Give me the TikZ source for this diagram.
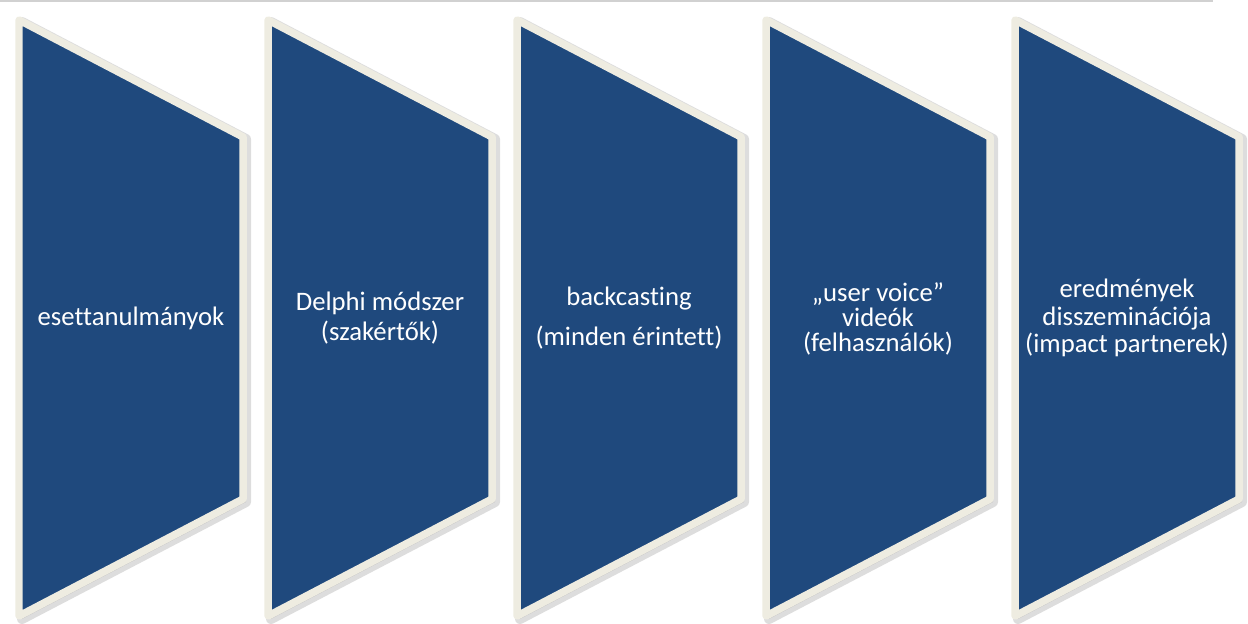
\documentclass[tikz,border=0pt]{standalone}
\usepackage{fontspec}
\setmainfont{Carlito}[Ligatures=NoCommon]
\usepackage{tikz}
\usetikzlibrary{positioning}
\definecolor{panelblue}{RGB}{31,73,125}
\definecolor{panelrim}{RGB}{238,236,225}
\definecolor{panelshade}{RGB}{120,120,120}

\tikzset{
  panel/.style={fill=panelblue, draw=panelrim, line width=0.15cm, line join=round},
  panelshadow/.style={draw=panelshade, fill=panelshade, line width=0.2cm, line join=round, opacity=0.25},
  paneltext/.style={text=white, align=center, font=\fontsize{15.2}{14}\selectfont},
}

\begin{document}
\begin{tikzpicture}[x=0.02cm, y=-0.02cm]
	\useasboundingbox (0,0) rectangle (1248,623);
	\draw[black!18, line width=0.03cm] (0,1) -- (1213,1);
	\foreach \i in {0,...,4}
	{
		\pgfmathsetmacro{\L}{19+249*\i}
		\draw[panelshadow] (\L+3,22) -- (\L+227,139) -- (\L+227,502) -- (\L+3,619) -- cycle;
		\draw[panel] (\L,20) -- (\L+224,137) -- (\L+224,499) -- (\L,616) -- cycle;
	}
	
	\node[paneltext] (cases) at (131,318) {esettanulmányok};
	\node[paneltext] (delphi) at (380,318) {Delphi módszer\\[3pt](szakértők)};
	\node[paneltext] (backcast) at (629,318) {backcasting\\[9pt](minden érintett)};
	\node[paneltext] (voice) at (878,319) {„user voice”\\videók\\(felhasználók)};
	\node[paneltext] (dissem) at (1127,318) {eredmények\\[1.5pt]disszeminációja\\[1.5pt](impact partnerek)};
\end{tikzpicture}
\end{document}
